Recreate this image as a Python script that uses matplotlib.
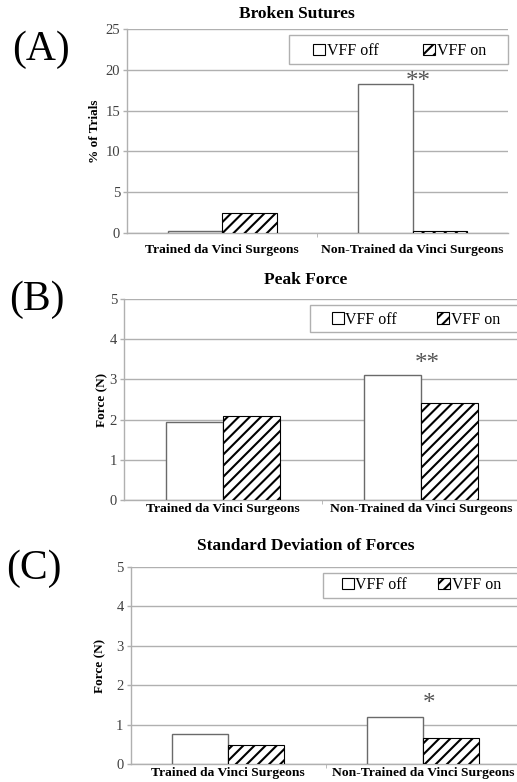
import matplotlib
matplotlib.use("Agg")
import matplotlib.pyplot as plt
import matplotlib.patches as patches
import numpy as np

plt.rcParams["font.family"] = ["Liberation Serif", "DejaVu Serif"]
plt.rcParams["hatch.linewidth"] = 1.5

CATEGORIES = ["Trained da Vinci Surgeons", "Non-Trained da Vinci Surgeons"]
SERIES = ["VFF off", "VFF on"]

BROKEN_OFF = [0.2, 18.3]
BROKEN_ON = [2.5, 0.2]
PEAK_OFF = [1.95, 3.12]
PEAK_ON = [2.1, 2.42]
STD_OFF = [0.77, 1.2]
STD_ON = [0.47, 0.65]

PANELS = [
    # letter, title, ylabel, off, on, ymax, ystep, signif, star_y
    ("(A)", "Broken Sutures", "% of Trials", BROKEN_OFF, BROKEN_ON, 25, 5, "**", 18.5),
    ("(B)", "Peak Force", "Force (N)", PEAK_OFF, PEAK_ON, 5, 1, "**", 3.38),
    ("(C)", "Standard Deviation of Forces", "Force (N)", STD_OFF, STD_ON, 5, 1, "*", 1.52),
]

W, H = 517, 782
# layout, in pixels / axes fractions
AX_PX = [(127, 29, 508, 233), (124, 299, 520, 500), (130.5, 567, 520.5, 764)]
LEG_ANCHOR = [(0.488, 0.892), (0.525, 0.896), (0.542, 0.909)]
LEG_COLSP = [2.8, 2.5, 1.95]
LEG_FRAME = [(0.425, 0.828, 0.575, 0.142), (0.470, 0.836, 0.60, 0.134),
             (0.494, 0.843, 0.58, 0.127)]
YLABEL_X = [-0.068, -0.040, -0.063]
XPAD = [8, 2, 2]
TITLE_PX = [(297, 14), (306, 280), (306, 546)]
LETTER_PX = [(41, 50), (37, 300), (34, 569)]

GRAY = "#b0b0b0"
EDGE = "#6a6a6a"
BAR_W = 0.286

fig = plt.figure(figsize=(W / 100, H / 100), dpi=100)

for i, (letter, title, ylabel, off, on, ymax, ystep, sig, sy) in enumerate(PANELS):
    l, t, r, b = AX_PX[i]
    ax = fig.add_axes([l / W, 1 - b / H, (r - l) / W, (b - t) / H])
    x = np.arange(len(CATEGORIES))
    h1 = ax.bar(x - BAR_W / 2, off, BAR_W, color="white", edgecolor=EDGE,
                linewidth=1.0, label=SERIES[0], zorder=3)
    h2 = ax.bar(x + BAR_W / 2, on, BAR_W, color="white", edgecolor="black",
                hatch="///", linewidth=0.8, label=SERIES[1], zorder=3)
    ax.set_xlim(-0.5, 1.5)
    ax.set_ylim(0, ymax)
    ax.set_yticks(np.arange(0, ymax + 0.01, ystep))
    ax.yaxis.grid(True, color=GRAY, linewidth=1.0, zorder=0)
    ax.set_axisbelow(True)
    for s in ["top", "right"]:
        ax.spines[s].set_visible(False)
    for s in ["left", "bottom"]:
        ax.spines[s].set_color(GRAY)
        ax.spines[s].set_linewidth(1.0)
    ax.tick_params(axis="y", colors=GRAY, labelcolor="#404040", labelsize=10.5,
                   length=3, width=1.0, pad=2)
    ax.set_xticks(x)
    ax.set_xticklabels(CATEGORIES, fontsize=9.7, fontweight="bold")
    ax.tick_params(axis="x", length=0, pad=XPAD[i])
    ax.set_xticks([0.5], minor=True)
    ax.tick_params(axis="x", which="minor", length=3, color=GRAY)
    ax.set_ylabel(ylabel, fontsize=9.5, fontweight="bold")
    ax.yaxis.set_label_coords(YLABEL_X[i], 0.5)
    ax.text(1.03, sy, sig, ha="center", va="center", fontsize=18, color="#555555")

    fx, fy, fw, fh = LEG_FRAME[i]
    ax.add_patch(patches.Rectangle((fx, fy), fw, fh, transform=ax.transAxes,
                                   facecolor="white", edgecolor=GRAY,
                                   linewidth=1.0, clip_on=False, zorder=4))
    leg = ax.legend(handles=[h1, h2], loc="center left",
                    bbox_to_anchor=LEG_ANCHOR[i], ncol=2, frameon=False,
                    borderaxespad=0, borderpad=0, fontsize=11.5,
                    handlelength=0.75, handleheight=0.75, handletextpad=0.1,
                    columnspacing=LEG_COLSP[i])
    leg.set_zorder(5)
    for hd in leg.legend_handles:
        hd.set_edgecolor("black")
        hd.set_linewidth(0.8)

    tx, ty = TITLE_PX[i]
    fig.text(tx / W, 1 - ty / H, title, ha="center", va="center",
             fontsize=12.5, fontweight="bold")
    lx, ly = LETTER_PX[i]
    fig.text(lx / W, 1 - ly / H, letter, ha="center", va="center", fontsize=30)

fig.savefig("out.png", dpi=100)
